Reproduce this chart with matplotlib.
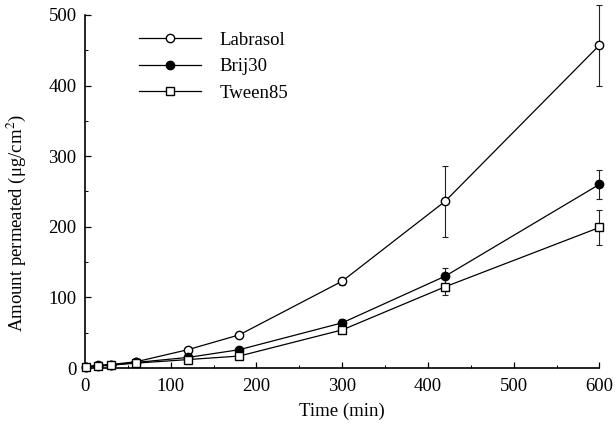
import matplotlib
matplotlib.use("Agg")
import matplotlib.pyplot as plt
from matplotlib.ticker import MultipleLocator

time_min = [1, 15, 30, 60, 120, 180, 300, 420, 600]
labrasol = [2, 4, 5, 9, 26, 47, 123, 236, 457]
labrasol_err = [0.5, 0.5, 0.5, 1, 2, 3, 5, 50, 57]
brij30 = [2, 3, 4, 8, 15, 26, 64, 130, 260]
brij30_err = [0.5, 0.5, 0.5, 1, 1.5, 2, 6, 11, 20]
tween85 = [1, 3, 4, 7, 12, 17, 54, 115, 199]
tween85_err = [0.5, 0.5, 0.5, 1, 1, 2, 5, 12, 25]

series_names = ["Labrasol", "Brij30", "Tween85"]
x_ticks = [0, 100, 200, 300, 400, 500, 600]
y_ticks = [0, 100, 200, 300, 400, 500]

plt.rcParams['font.family'] = ['Liberation Serif', 'DejaVu Serif']
plt.rcParams['mathtext.fontset'] = 'stix'

fig = plt.figure(figsize=(6.16, 4.25), dpi=100)
ax = fig.add_axes([0.138, 0.134, 0.835, 0.831])

styles = [
    dict(marker='o', mfc='white', mec='black', ms=6),
    dict(marker='o', mfc='black', mec='black', ms=6),
    dict(marker='s', mfc='white', mec='black', ms=6),
]
data = [(labrasol, labrasol_err), (brij30, brij30_err), (tween85, tween85_err)]
handles = []
for (vals, errs), name, st in zip(data, series_names, styles):
    eb = ax.errorbar(time_min, vals, yerr=errs, fmt='none', ecolor='#222222',
                     elinewidth=0.8, capsize=2.5, capthick=0.8, zorder=2)
    for art in eb.lines[1] + eb.lines[2]:
        art.set_clip_on(False)
    h, = ax.plot(time_min, vals, color='black', lw=0.9,
                 mew=1.0, label=name, zorder=3, clip_on=False, **st)
    handles.append(h)

ax.set_xlim(0, 600)
ax.set_ylim(0, 500)
ax.set_xticks(x_ticks)
ax.set_yticks(y_ticks)
ax.xaxis.set_minor_locator(MultipleLocator(50))
ax.yaxis.set_minor_locator(MultipleLocator(50))
ax.tick_params(which='major', direction='in', length=4, width=0.9, labelsize=13.5)
ax.tick_params(which='minor', direction='in', length=2, width=0.7)
ax.tick_params(axis='y', pad=6)
ax.tick_params(axis='x', pad=7)
for s in ['top', 'right']:
    ax.spines[s].set_visible(False)
for s in ['left', 'bottom']:
    ax.spines[s].set_linewidth(1.2)

ax.set_xlabel('Time (min)', fontsize=13.5)
ax.xaxis.set_label_coords(0.5, -0.097)
ax.set_ylabel('Amount permeated (μg/cm$^2$)', fontsize=13.5)
ax.yaxis.set_label_coords(-0.11, 0.41)

ax.legend(handles=handles, loc='upper left', bbox_to_anchor=(0.08, 0.99),
          frameon=False, fontsize=13.5, handlelength=3.3, handletextpad=1.0,
          labelspacing=0.5, borderpad=0.2)

fig.savefig('out.png', dpi=100)
